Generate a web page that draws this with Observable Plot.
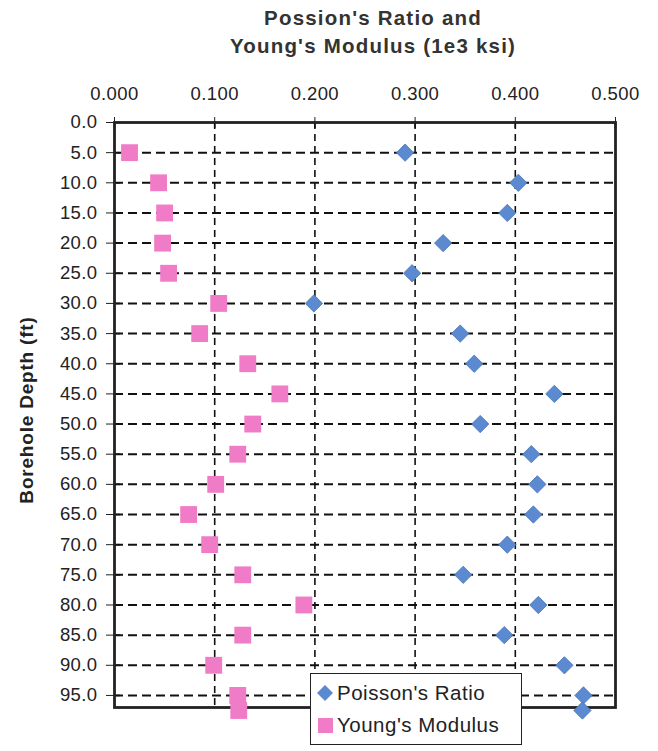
<!DOCTYPE html>
<html>
<head>
<meta charset="utf-8">
<script src="https://cdn.jsdelivr.net/npm/d3@7"></script>
<script src="https://cdn.jsdelivr.net/npm/@observablehq/plot@0.6"></script>
<style>
  body { margin: 0; background: #fff; font-family: "Liberation Sans", Arial, sans-serif; }
  #wrap { position: relative; width: 658px; height: 751px; }
  #title { position: absolute; left: 0; top: 4px; width: 746px; text-align: center; font-weight: bold; font-size: 20.5px; letter-spacing: 1.2px; line-height: 28px; color: #333; }
  #chart { position: absolute; left: 0; top: 62px; }
  #ylab { position: absolute; left: 27px; top: 410px; transform: translate(-50%, -50%) rotate(-90deg); font-weight: bold; font-size: 19px; letter-spacing: 0.8px; white-space: nowrap; color: #222; }
  #legend { position: absolute; left: 310px; top: 673px; width: 212px; height: 72px; background: #fff; border: 1.5px solid #222; box-sizing: border-box; font-size: 20.5px; letter-spacing: 0.5px; color: #222; }
  .li { position: absolute; left: 5px; display: flex; align-items: center; }
  .li svg { margin-right: 3px; }
</style>
</head>
<body>
<div id="wrap">
  <div id="title">Possion's Ratio and<br>Young's Modulus (1e3 ksi)</div>
  <div id="chart"></div>
  <div id="ylab">Borehole Depth (ft)</div>
  <div id="legend">
    <div class="li" style="top:7px"><svg width="18" height="18"><path d="M9,1L17,9L9,17L1,9Z" fill="#5b8ad0"/></svg>Poisson's Ratio</div>
    <div class="li" style="top:39px"><svg width="18" height="18"><rect x="2" y="2" width="15" height="15" fill="#f07cc8"/></svg>Young's Modulus</div>
  </div>
</div>
<script>
const depths = [5, 10, 15, 20, 25, 30, 35, 40, 45, 50, 55, 60, 65, 70, 75, 80, 85, 90, 95, 97.5];
const poissonRatio = [0.290, 0.403, 0.392, 0.328, 0.297, 0.199, 0.345, 0.359, 0.439, 0.365, 0.416, 0.422, 0.418, 0.392, 0.348, 0.423, 0.389, 0.449, 0.468, 0.467];
const youngsModulus = [0.015, 0.044, 0.050, 0.048, 0.054, 0.104, 0.085, 0.133, 0.165, 0.138, 0.123, 0.101, 0.074, 0.095, 0.128, 0.189, 0.128, 0.099, 0.123, 0.124];
const xTicks = [0, 0.1, 0.2, 0.3, 0.4, 0.5];
const yTicks = [0, 5, 10, 15, 20, 25, 30, 35, 40, 45, 50, 55, 60, 65, 70, 75, 80, 85, 90, 95];
const seriesNames = ["Poisson's Ratio", "Young's Modulus"];

const pr = depths.map((d, i) => ({depth: d, value: poissonRatio[i], series: seriesNames[0]}));
const ym = depths.map((d, i) => ({depth: d, value: youngsModulus[i], series: seriesNames[1]}));

const chart = Plot.plot({
  width: 658,
  height: 689,
  marginTop: 60,
  marginBottom: 44,
  marginLeft: 114,
  marginRight: 43,
  style: {fontFamily: "Liberation Sans, Arial, sans-serif", fontSize: "18px", color: "#222", background: "transparent", letterSpacing: "0.4px"},
  x: {domain: [0, 0.5]},
  y: {domain: [0, 97], reverse: true},
  marks: [
    Plot.ruleY(yTicks.filter(d => d > 0), {stroke: "#111", strokeWidth: 2, strokeDasharray: "9,5"}),
    Plot.ruleX(xTicks.filter(d => d > 0 && d < 0.5), {stroke: "#111", strokeWidth: 1.6, strokeDasharray: "7,5"}),
    Plot.tickY(yTicks, {y: d => d, stroke: "#111", strokeWidth: 1.5, insetRight: 495}),
    Plot.tickX(xTicks, {x: d => d, stroke: "#111", strokeWidth: 1.5, insetBottom: 579}),
    Plot.frame({stroke: "#222", strokeWidth: 2.8}),
    Plot.axisX({anchor: "top", ticks: xTicks, tickFormat: d3.format(".3f"), tickSize: 6, tickPadding: 17, label: null, fontSize: 18.5}),
    Plot.axisY({anchor: "left", ticks: yTicks, tickFormat: d3.format(".1f"), tickSize: 8, tickPadding: 9, label: null, fontSize: 18.5}),
    Plot.dot(ym, {x: "value", y: "depth", symbol: "square", r: 9.5, fill: "#f07cc8", stroke: "none"}),
    Plot.dot(pr, {x: "value", y: "depth", symbol: "diamond2", r: 7.8, fill: "#5b8ad0", stroke: "#4a74b8", strokeWidth: 0.8})
  ]
});
document.getElementById("chart").appendChild(chart);
</script>
</body>
</html>
